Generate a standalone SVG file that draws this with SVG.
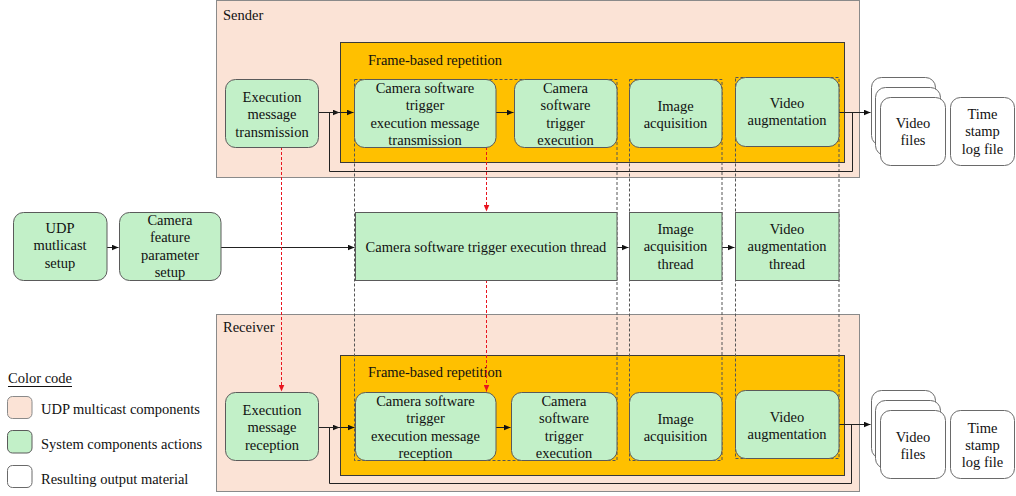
<svg xmlns="http://www.w3.org/2000/svg" width="1016" height="496" viewBox="0 0 1016 496">
<defs>
<marker id="ab" markerUnits="userSpaceOnUse" markerWidth="7" markerHeight="6" refX="7" refY="3" orient="auto"><path d="M0,0 L7,3 L0,6 z" fill="#111"/></marker>
<marker id="ar" markerUnits="userSpaceOnUse" markerWidth="7" markerHeight="6" refX="7" refY="3" orient="auto"><path d="M0,0 L7,3 L0,6 z" fill="#e8141e"/></marker>
</defs>
<style>
text{font-family:"Liberation Serif","Times New Roman",serif;font-size:14.5px;fill:#111}
.c{text-anchor:middle}
.peach{fill:#fbe3d6;stroke:#8a8a8a;stroke-width:1}
.orange{fill:#ffc000;stroke:#3a3a3a;stroke-width:1}
.node{fill:#c2f0c8;stroke:#5a5a5a;stroke-width:1}
.out{fill:#ffffff;stroke:#6a6a6a;stroke-width:1}
.col{fill:none;stroke:#555;stroke-width:1;stroke-dasharray:3,2}
.ln{fill:none;stroke:#222;stroke-width:1}
.red{fill:none;stroke:#e8141e;stroke-width:1;stroke-dasharray:3,2}
</style>
<rect width="1016" height="496" fill="#ffffff"/>

<g id="sender">
<rect class="peach" x="216.5" y="0.5" width="643" height="177"/>
<text x="223" y="20">Sender</text>
<rect class="orange" x="340.5" y="42.5" width="504" height="120"/>
<text x="368" y="65">Frame-based repetition</text>
</g>
<g id="receiver">
<rect class="peach" x="216.5" y="314.5" width="643" height="177"/>
<text x="223" y="332">Receiver</text>
<rect class="orange" x="340.5" y="355.5" width="504" height="120"/>
<text x="368" y="377">Frame-based repetition</text>
</g>

<g id="columns">
<rect class="col" x="354.5" y="79.5" width="262.5" height="381"/>
<rect class="col" x="629.5" y="79.5" width="92.5" height="381"/>
<rect class="col" x="735.5" y="77.5" width="103.5" height="381"/>
</g>

<g id="connectors">
<path class="ln" d="M318,112.5 H339.5" marker-end="url(#ab)"/>
<path class="ln" d="M496,112.5 H513.5" marker-end="url(#ab)"/>
<path class="ln" d="M839,112.5 H870.5" marker-end="url(#ab)"/>
<path class="ln" d="M839,112.5 H852.5 V171.5 H329.5 V112.5 H353.5" marker-end="url(#ab)"/>
<path class="ln" d="M107,247.5 H118.5" marker-end="url(#ab)"/>
<path class="ln" d="M221,247.5 H354.5" marker-end="url(#ab)"/>
<path class="ln" d="M617,247.5 H628.5" marker-end="url(#ab)"/>
<path class="ln" d="M722,247.5 H734.5" marker-end="url(#ab)"/>
<path class="ln" d="M318,427.5 H339.5" marker-end="url(#ab)"/>
<path class="ln" d="M496,427.5 H510.5" marker-end="url(#ab)"/>
<path class="ln" d="M839,424.5 H870.5" marker-end="url(#ab)"/>
<path class="ln" d="M839,424.5 H851.5 V483.5 H329.5 V427.5 H354.5" marker-end="url(#ab)"/>
<path class="red" d="M281.5,147 V391.5" marker-end="url(#ar)"/>
<path class="red" d="M486.5,147 V211.5" marker-end="url(#ar)"/>
<path class="red" d="M486.5,280 V391.5" marker-end="url(#ar)"/>
</g>

<g id="s_exec"><rect class="node" x="225.5" y="79.5" width="93" height="68" rx="10"/>
<text class="c" x="272" y="102">Execution</text><text class="c" x="272" y="119.3">message</text><text class="c" x="272" y="136.6">transmission</text></g>
<g id="s_cst_msg"><rect class="node" x="354.5" y="79.5" width="141.5" height="68" rx="10"/>
<text class="c" x="425" y="93">Camera software</text><text class="c" x="425" y="110.3">trigger</text><text class="c" x="425" y="127.6">execution message</text><text class="c" x="425" y="144.9">transmission</text></g>
<g id="s_cst_exec"><rect class="node" x="514.5" y="79.5" width="102.5" height="68" rx="10"/>
<text class="c" x="565.5" y="93">Camera</text><text class="c" x="565.5" y="110.3">software</text><text class="c" x="565.5" y="127.6">trigger</text><text class="c" x="565.5" y="144.9">execution</text></g>
<g id="s_img"><rect class="node" x="629.5" y="79.5" width="92.5" height="68" rx="10"/>
<text class="c" x="675.5" y="110.5">Image</text><text class="c" x="675.5" y="127.8">acquisition</text></g>
<g id="s_vid"><rect class="node" x="735.5" y="77.5" width="103.5" height="69" rx="10"/>
<text class="c" x="787" y="108">Video</text><text class="c" x="787" y="125.3">augmentation</text></g>
<g id="s_files">
<rect class="out" x="871.5" y="77.5" width="64" height="68" rx="10"/>
<rect class="out" x="875.5" y="87.5" width="65" height="68" rx="10"/>
<rect class="out" x="880.5" y="97.5" width="65" height="68" rx="10"/>
<text class="c" x="913" y="128">Video</text><text class="c" x="913" y="145.3">files</text></g>
<g id="s_log"><rect class="out" x="950.5" y="97.5" width="64" height="68" rx="10"/>
<text class="c" x="982.5" y="119">Time</text><text class="c" x="982.5" y="136.3">stamp</text><text class="c" x="982.5" y="153.6">log file</text></g>

<g id="udp"><rect class="node" x="13.5" y="212.5" width="93.5" height="68" rx="10"/>
<text class="c" x="60" y="233">UDP</text><text class="c" x="60" y="250.3">mutlicast</text><text class="c" x="60" y="267.6">setup</text></g>
<g id="camfeat"><rect class="node" x="119.5" y="212.5" width="101.5" height="68" rx="10"/>
<text class="c" x="170" y="225">Camera</text><text class="c" x="170" y="242.3">feature</text><text class="c" x="170" y="259.6">parameter</text><text class="c" x="170" y="276.9">setup</text></g>
<g id="t_cst"><rect class="node" x="355.5" y="212.5" width="261.5" height="68"/>
<text class="c" x="486" y="252">Camera software trigger execution thread</text></g>
<g id="t_img"><rect class="node" x="629.5" y="212.5" width="92.5" height="68"/>
<text class="c" x="675.5" y="234">Image</text><text class="c" x="675.5" y="251.3">acquisition</text><text class="c" x="675.5" y="268.6">thread</text></g>
<g id="t_vid"><rect class="node" x="735.5" y="212.5" width="103.5" height="68"/>
<text class="c" x="787" y="234">Video</text><text class="c" x="787" y="251.3">augmentation</text><text class="c" x="787" y="268.6">thread</text></g>

<g id="r_exec"><rect class="node" x="225.5" y="392.5" width="93" height="68" rx="10"/>
<text class="c" x="272" y="415">Execution</text><text class="c" x="272" y="432.3">message</text><text class="c" x="272" y="449.6">reception</text></g>
<g id="r_cst_msg"><rect class="node" x="355.5" y="392.5" width="140.5" height="68" rx="10"/>
<text class="c" x="425.5" y="406">Camera software</text><text class="c" x="425.5" y="423.3">trigger</text><text class="c" x="425.5" y="440.6">execution message</text><text class="c" x="425.5" y="457.9">reception</text></g>
<g id="r_cst_exec"><rect class="node" x="511.5" y="392.5" width="105.5" height="68" rx="10"/>
<text class="c" x="564" y="406">Camera</text><text class="c" x="564" y="423.3">software</text><text class="c" x="564" y="440.6">trigger</text><text class="c" x="564" y="457.9">execution</text></g>
<g id="r_img"><rect class="node" x="629.5" y="392.5" width="92.5" height="68" rx="10"/>
<text class="c" x="675.5" y="424">Image</text><text class="c" x="675.5" y="441.3">acquisition</text></g>
<g id="r_vid"><rect class="node" x="735.5" y="390.5" width="103.5" height="68" rx="10"/>
<text class="c" x="787" y="422">Video</text><text class="c" x="787" y="439.3">augmentation</text></g>
<g id="r_files">
<rect class="out" x="871.5" y="390.5" width="64" height="68" rx="10"/>
<rect class="out" x="875.5" y="400.5" width="65" height="68" rx="10"/>
<rect class="out" x="880.5" y="410.5" width="65" height="68" rx="10"/>
<text class="c" x="913" y="442">Video</text><text class="c" x="913" y="459.3">files</text></g>
<g id="r_log"><rect class="out" x="950.5" y="410.5" width="64" height="68" rx="10"/>
<text class="c" x="982.5" y="432.5">Time</text><text class="c" x="982.5" y="449.8">stamp</text><text class="c" x="982.5" y="467.1">log file</text></g>

<g id="legend">
<text x="8" y="383">Color code</text>
<line x1="8" y1="386.5" x2="72" y2="386.5" stroke="#111" stroke-width="1"/>
<rect class="peach" x="7.5" y="396.5" width="24.5" height="22" rx="5"/>
<text x="41" y="414">UDP multicast components</text>
<rect class="node" x="7.5" y="430.5" width="24.5" height="22.5" rx="5"/>
<text x="41" y="449">System components actions</text>
<rect class="out" x="7.5" y="465.5" width="24.5" height="22" rx="5"/>
<text x="41" y="484">Resulting output material</text>
</g>
</svg>
